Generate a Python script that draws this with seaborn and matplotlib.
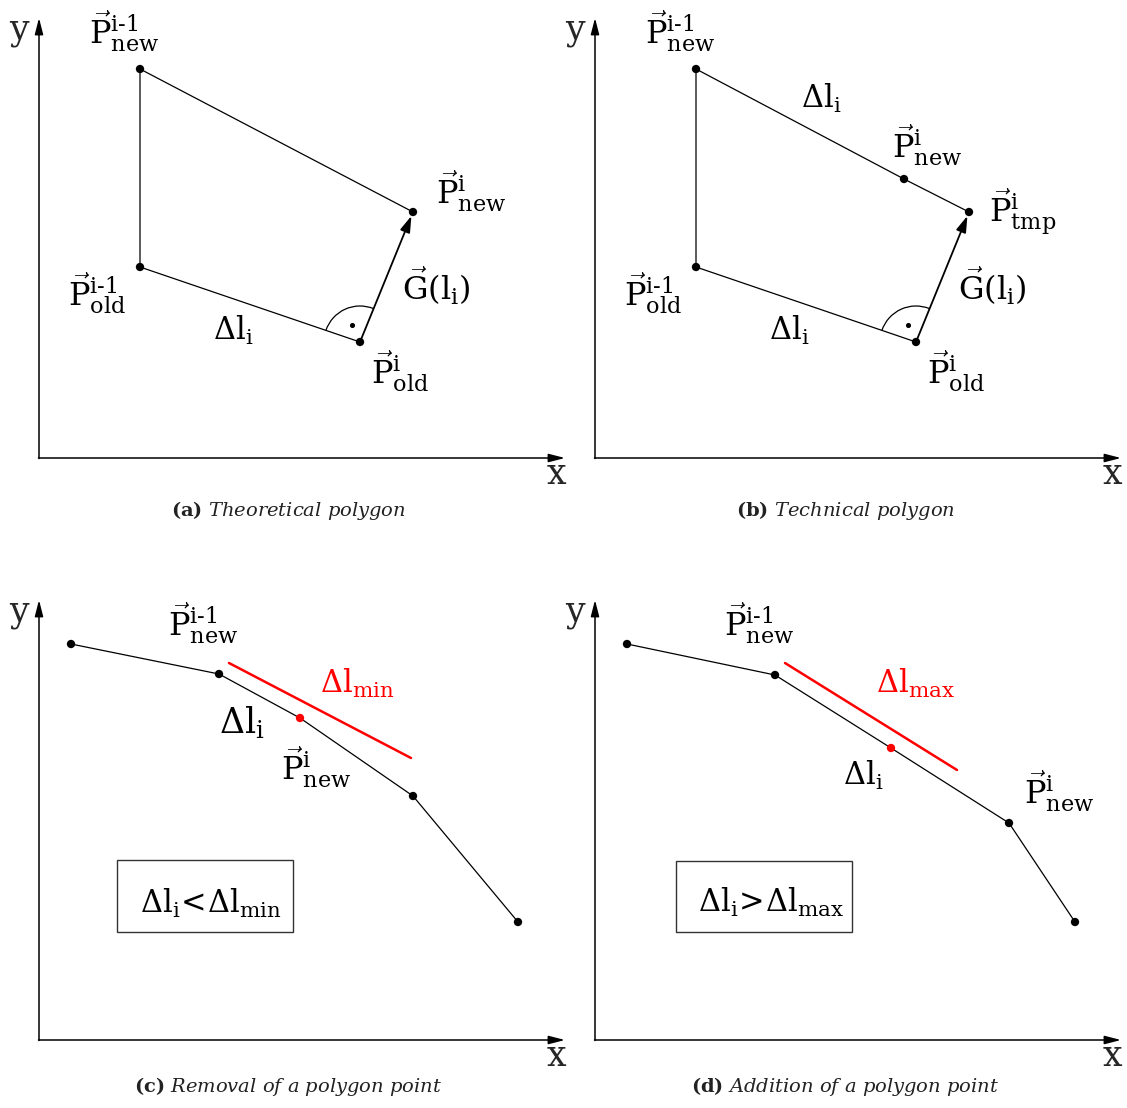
import numpy as np
import matplotlib
matplotlib.use("Agg")
import matplotlib.pyplot as plt
from matplotlib.patches import Arc, Rectangle
import seaborn as sns

sns.set_theme(style="white")
plt.rcParams["font.family"] = ["DejaVu Serif"]
plt.rcParams["mathtext.fontset"] = "custom"
plt.rcParams["mathtext.rm"] = "DejaVu Serif"
plt.rcParams["mathtext.it"] = "DejaVu Serif:italic"
plt.rcParams["mathtext.bf"] = "DejaVu Serif:bold"

# ---- geometry of the four sketches (canvas units, y grows downward) ----
# (a) theoretical polygon: P_old^i, P_old^{i-1}, P_new^{i-1}, P_new^i
a_x = [360, 140, 140, 413]
a_y = [342, 267, 69, 212]
# (b) technical polygon: P_old^i, P_old^{i-1}, P_new^{i-1}, P_new^i, P_tmp^i
b_x = [916, 696, 696, 904, 969]
b_y = [342, 267, 69, 179, 212]
# (c) removal of a polygon point (index 2 is the highlighted point)
c_x = [71, 219, 300, 413, 518]
c_y = [644, 674, 718, 796, 922]
c_lim_x = [229, 411]
c_lim_y = [663, 758]
# (d) addition of a polygon point (index 2 is the highlighted point)
d_x = [627, 775, 891, 1009, 1075]
d_y = [644, 675, 748, 823, 922]
d_lim_x = [785, 957]
d_lim_y = [663, 770]

# coordinate-axis origins of the four panels and the arrow lengths
origins_x = [39, 595, 39, 595]
origins_y = [458, 458, 1040, 1040]
axis_w = 526
axis_h = 440

captions = [
    (r"$\mathbf{(a)}$ $\mathit{Theoretical\ polygon}$", 288, 516),
    (r"$\mathbf{(b)}$ $\mathit{Technical\ polygon}$", 845, 516),
    (r"$\mathbf{(c)}$ $\mathit{Removal\ of\ a\ polygon\ point}$", 288, 1092),
    (r"$\mathbf{(d)}$ $\mathit{Addition\ of\ a\ polygon\ point}$", 845, 1092),
]

P_SIZE = 23
D_SIZE = 22
labels = [
    # (text, left x, baseline y, size, colour)
    (r"$\vec{\mathrm{P}}^{\text{i-1}}_{\mathrm{new}}$", 89, 44, P_SIZE, "black"),
    (r"$\vec{\mathrm{P}}^{\mathrm{i}}_{\mathrm{new}}$", 436, 203, P_SIZE, "black"),
    (r"$\vec{\mathrm{P}}^{\text{i-1}}_{\mathrm{old}}$", 68, 306, P_SIZE, "black"),
    (r"$\vec{\mathrm{P}}^{\mathrm{i}}_{\mathrm{old}}$", 371, 383, P_SIZE, "black"),
    (r"$\vec{\mathrm{G}}(\mathrm{l}_{\mathrm{i}})$", 402, 300, P_SIZE, "black"),
    (r"$\Delta\mathrm{l}_{\mathrm{i}}$", 213, 340, D_SIZE, "black"),

    (r"$\vec{\mathrm{P}}^{\text{i-1}}_{\mathrm{new}}$", 645, 44, P_SIZE, "black"),
    (r"$\Delta\mathrm{l}_{\mathrm{i}}$", 801, 108, D_SIZE, "black"),
    (r"$\vec{\mathrm{P}}^{\mathrm{i}}_{\mathrm{new}}$", 892, 157, P_SIZE, "black"),
    (r"$\vec{\mathrm{P}}^{\mathrm{i}}_{\mathrm{tmp}}$", 989, 222, P_SIZE, "black"),
    (r"$\vec{\mathrm{P}}^{\text{i-1}}_{\mathrm{old}}$", 624, 306, P_SIZE, "black"),
    (r"$\Delta\mathrm{l}_{\mathrm{i}}$", 769, 340, D_SIZE, "black"),
    (r"$\vec{\mathrm{G}}(\mathrm{l}_{\mathrm{i}})$", 958, 300, P_SIZE, "black"),
    (r"$\vec{\mathrm{P}}^{\mathrm{i}}_{\mathrm{old}}$", 927, 383, P_SIZE, "black"),

    (r"$\vec{\mathrm{P}}^{\text{i-1}}_{\mathrm{new}}$", 168, 635, P_SIZE, "black"),
    (r"$\Delta\mathrm{l}_{\mathrm{min}}$", 320, 693, D_SIZE, "red"),
    (r"$\Delta\mathrm{l}_{\mathrm{i}}$", 219, 733, 25, "black"),
    (r"$\vec{\mathrm{P}}^{\mathrm{i}}_{\mathrm{new}}$", 281, 780, P_SIZE, "black"),
    (r"$\Delta\mathrm{l}_{\mathrm{i}}\!<\!\Delta\mathrm{l}_{\mathrm{min}}$", 140, 913, D_SIZE, "black"),

    (r"$\vec{\mathrm{P}}^{\text{i-1}}_{\mathrm{new}}$", 724, 635, P_SIZE, "black"),
    (r"$\Delta\mathrm{l}_{\mathrm{max}}$", 876, 693, D_SIZE, "red"),
    (r"$\Delta\mathrm{l}_{\mathrm{i}}$", 843, 785, D_SIZE, "black"),
    (r"$\vec{\mathrm{P}}^{\mathrm{i}}_{\mathrm{new}}$", 1024, 803, P_SIZE, "black"),
    (r"$\Delta\mathrm{l}_{\mathrm{i}}\!>\!\Delta\mathrm{l}_{\mathrm{max}}$", 698, 912, D_SIZE, "black"),
]

# condition boxes: left, top, width, height
boxes = [(117, 860, 176, 72), (676, 861, 176, 71)]

fig = plt.figure(figsize=(11.27, 11.08), dpi=100)
ax = fig.add_axes([0, 0, 1, 1])

line_kw = dict(sort=False, estimator=None, color="black", linewidth=0.9, ax=ax)
sns.lineplot(x=a_x, y=a_y, **line_kw)
sns.lineplot(x=b_x, y=b_y, **line_kw)
sns.lineplot(x=c_x, y=c_y, **line_kw)
sns.lineplot(x=d_x, y=d_y, **line_kw)
sns.lineplot(x=c_lim_x, y=c_lim_y, sort=False, estimator=None, color="red", linewidth=1.8, ax=ax)
sns.lineplot(x=d_lim_x, y=d_lim_y, sort=False, estimator=None, color="red", linewidth=1.8, ax=ax)

dot_kw = dict(s=36, edgecolor="none", ax=ax, zorder=4, legend=False)
sns.scatterplot(x=a_x, y=a_y, color="black", **dot_kw)
sns.scatterplot(x=b_x, y=b_y, color="black", **dot_kw)
sns.scatterplot(x=[v for i, v in enumerate(c_x) if i != 2],
                y=[v for i, v in enumerate(c_y) if i != 2], color="black", **dot_kw)
sns.scatterplot(x=[v for i, v in enumerate(d_x) if i != 2],
                y=[v for i, v in enumerate(d_y) if i != 2], color="black", **dot_kw)
sns.scatterplot(x=[c_x[2], d_x[2]], y=[c_y[2], d_y[2]], color="red", **dot_kw)

# gradient vectors and right-angle markers
for xs, ys, tip in ((a_x, a_y, 3), (b_x, b_y, 4)):
    ox, oy = xs[0], ys[0]
    ax.annotate("", xy=(xs[tip], ys[tip]), xytext=(ox, oy),
                arrowprops=dict(arrowstyle="-|>,head_length=0.7,head_width=0.22",
                                color="black", lw=1.3, shrinkA=0, shrinkB=3,
                                mutation_scale=14))
    t1 = np.degrees(np.arctan2(ys[1] - oy, xs[1] - ox))
    t2 = np.degrees(np.arctan2(ys[tip] - oy, xs[tip] - ox))
    ax.add_patch(Arc((ox, oy), 72, 72, theta1=t1, theta2=t2, color="black", lw=0.9))
    mid = np.radians((t1 + t2) / 2)
    ax.scatter([ox + 19 * np.cos(mid)], [oy + 19 * np.sin(mid)], s=7, color="black", zorder=4)

# coordinate axes with arrow heads
for ox, oy in zip(origins_x, origins_y):
    head = dict(arrowstyle="-|>,head_length=0.7,head_width=0.18", color="black",
                lw=1.1, shrinkA=0, shrinkB=0, mutation_scale=14)
    ax.annotate("", xy=(ox, oy - axis_h), xytext=(ox, oy + 0.5), arrowprops=head)
    ax.annotate("", xy=(ox + axis_w, oy), xytext=(ox - 0.5, oy), arrowprops=head)
    ax.text(ox - 20, oy - 428, "y", fontsize=25, ha="center", va="center")
    ax.text(ox + 517, oy + 16, "x", fontsize=25, ha="center", va="center")

for left, top, w, h in boxes:
    ax.add_patch(Rectangle((left, top), w, h, fill=False, edgecolor="#333333", lw=1.0))

for txt, x, y, size, col in labels:
    ax.text(x, y, txt, fontsize=size, color=col, ha="left", va="baseline")

for txt, x, y in captions:
    ax.text(x, y, txt, fontsize=14, color="#222222", ha="center", va="baseline")

ax.set_xlim(0, 1127)
ax.set_ylim(1108, 0)
ax.axis("off")

fig.savefig("out.png", dpi=100, facecolor="white")
